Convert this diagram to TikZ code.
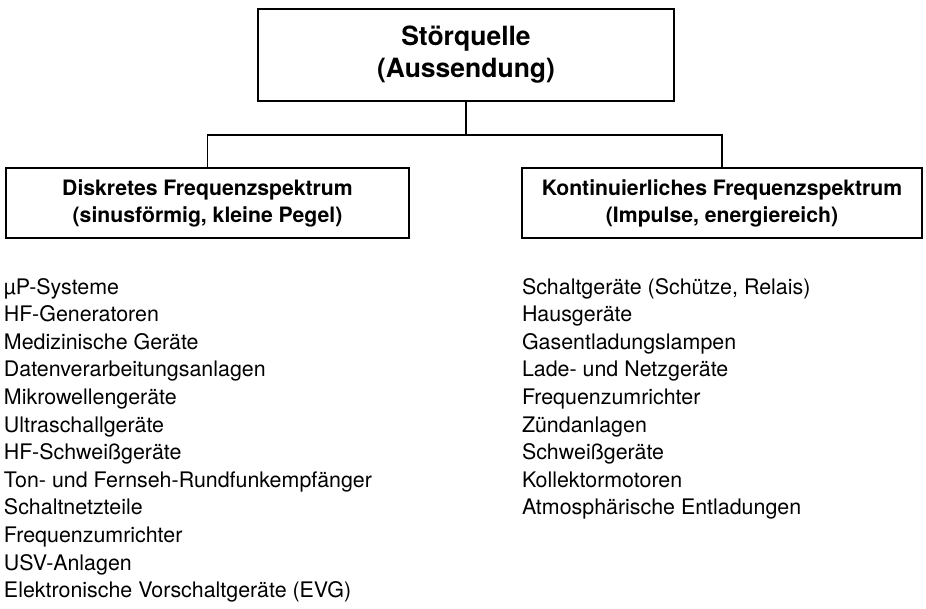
\documentclass[tikz,border=0pt]{standalone}
\usepackage{fontspec}
\setmainfont{TeX Gyre Heros}
\tikzset{
  topbox/.style={draw=black, line width=2.6pt, inner sep=0pt, outer sep=0pt,
    minimum width=416pt, minimum height=92pt, align=center,
    font=\fontsize{26.5}{32}\selectfont\bfseries},
  catbox/.style={draw=black, line width=2.2pt, inner sep=0pt, outer sep=0pt,
    minimum height=70pt, align=center,
    font=\fontsize{21.2}{27}\selectfont\bfseries},
  conn/.style={draw=black, line width=1.8pt},
  listitem/.style={inner sep=0pt, outer sep=0pt, anchor=base west,
    font=\fontsize{21.4}{27.6}\selectfont}
}
\begin{document}
\begin{tikzpicture}[x=1pt,y=-1pt]
\useasboundingbox (0,0) rectangle (926,608);
\node[topbox] (top) at (466,55) {Störquelle\\(Aussendung)};
\node[catbox, minimum width=403pt] (left) at (207.5,203) {Diskretes Frequenzspektrum\\(sinusförmig, kleine Pegel)};
\node[catbox, minimum width=400pt] (right) at (722,203) {Kontinuierliches Frequenzspektrum\\(Impulse, energiereich)};
\coordinate (j) at (466,135);
\draw[conn] (top.south) -- (j);
\draw[conn] (left.north) |- (j) -| (right.north);
\foreach [count=\i] \t in {µP-Systeme, HF-Generatoren, Medizinische Geräte,
  Datenverarbeitungsanlagen, Mikrowellengeräte, Ultraschallgeräte,
  HF-Schweißgeräte, Ton- und Fernseh-Rundfunkempfänger, Schaltnetzteile,
  Frequenzumrichter, USV-Anlagen, Elektronische Vorschaltgeräte (EVG)}
  \node[listitem] (l\i) at (4,{294+27.6*(\i-1)}) {\t};
\foreach [count=\i] \t in {{Schaltgeräte (Schütze, Relais)}, Hausgeräte,
  Gasentladungslampen, Lade- und Netzgeräte, Frequenzumrichter, Zündanlagen,
  Schweißgeräte, Kollektormotoren, Atmosphärische Entladungen}
  \node[listitem] (r\i) at (522,{294+27.6*(\i-1)}) {\t};
\end{tikzpicture}
\end{document}
